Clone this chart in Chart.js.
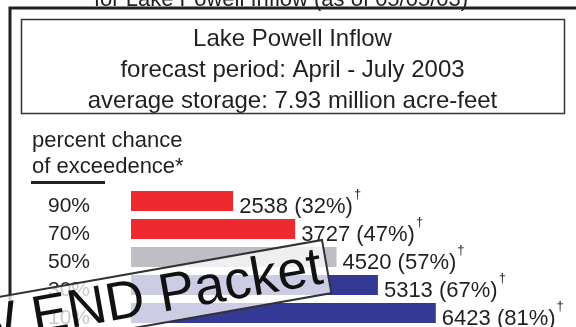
<!DOCTYPE html>
<html>
<head>
<meta charset="utf-8">
<script src="https://cdn.jsdelivr.net/npm/chart.js@4"></script>
<style>
  html, body { margin: 0; padding: 0; background: #fff; }
  #wrap { width: 576px; height: 327px; position: relative; }
</style>
</head>
<body>
<div id="wrap"><canvas id="inflowChart" width="576" height="327"></canvas></div>
<script>
// exceedence levels, forecast volumes (thousand acre-feet) and percent of average
var chances = ['90%', '70%', '50%', '30%', '10%'];
var volumes = [2538, 3727, 4520, 5313, 6423];
var pctAverage = [32, 47, 57, 67, 81];
var barColors = ['#ec2a2f', '#ec2a2f', '#bdbfc5', '#343996', '#343996'];

var titleLines = [
    'Lake Powell Inflow',
    'forecast period: April - July 2003',
    'average storage: 7.93 million acre-feet'
];
var headerText = 'for Lake Powell Inflow (as of 05/05/03)';

var FONT = '"Liberation Sans", Arial, Helvetica, sans-serif';
var INK = '#231f20';

// frame, title box and the column header
var framePlugin = {
    id: 'frame',
    beforeDraw: function(chart) {
        var ctx = chart.ctx;
        ctx.save();
        ctx.fillStyle = '#fff';
        ctx.fillRect(0, 0, chart.width, chart.height);

        ctx.fillStyle = INK;
        ctx.textAlign = 'center';
        ctx.textBaseline = 'alphabetic';
        ctx.font = '22px ' + FONT;
        ctx.fillText(headerText, 281, 6);

        // outer box (runs off the right and bottom)
        ctx.strokeStyle = INK;
        ctx.lineWidth = 3;
        ctx.beginPath();
        ctx.moveTo(10, 340);
        ctx.lineTo(10, 8);
        ctx.lineTo(600, 8);
        ctx.stroke();

        // title box
        ctx.lineWidth = 1.5;
        ctx.strokeStyle = '#333';
        ctx.strokeRect(21.5, 19.5, 543, 94);

        ctx.fillStyle = INK;
        ctx.font = '24px ' + FONT;
        ctx.fillText(titleLines[0], 292.5, 46);
        ctx.fillText(titleLines[1], 292.5, 77);
        ctx.fillText(titleLines[2], 292.5, 108);

        ctx.textAlign = 'left';
        ctx.font = '22px ' + FONT;
        ctx.fillText('percent chance', 32, 147);
        ctx.fillText('of exceedence*', 32, 173);
        ctx.fillRect(31, 181, 74, 3);
        ctx.restore();
    }
};

// row labels on the left, values with dagger after each bar
var labelPlugin = {
    id: 'rowLabels',
    afterDatasetsDraw: function(chart) {
        var ctx = chart.ctx;
        var bars = chart.getDatasetMeta(0).data;
        ctx.save();
        ctx.fillStyle = INK;
        ctx.textAlign = 'left';
        ctx.textBaseline = 'alphabetic';
        bars.forEach(function(bar, i) {
            ctx.font = '21px ' + FONT;
            ctx.fillText(chances[i], 48, bar.y + 11);

            var txt = volumes[i] + ' (' + pctAverage[i] + '%)';
            var tx = bar.x + 6;
            ctx.font = '22px ' + FONT;
            ctx.fillText(txt, tx, bar.y + 12);
            var w = ctx.measureText(txt).width;
            ctx.font = '13px ' + FONT;
            ctx.fillText('\u2020', tx + w + 1, bar.y - 3);
        });
        ctx.restore();
    }
};

// tilted stamp laid over the lower rows
var stampPlugin = {
    id: 'stamp',
    afterDraw: function(chart) {
        var ctx = chart.ctx;
        ctx.save();
        ctx.translate(322, 240);
        ctx.rotate(-10 * Math.PI / 180);
        ctx.fillStyle = 'rgba(255,255,255,0.75)';
        ctx.fillRect(-520, 0, 520, 54);
        ctx.strokeStyle = '#333';
        ctx.lineWidth = 2;
        ctx.strokeRect(-520, 0, 520, 54);
        ctx.fillStyle = '#111';
        ctx.font = '54px ' + FONT;
        ctx.textAlign = 'right';
        ctx.textBaseline = 'alphabetic';
        ctx.fillText('NEW END Packet', -5, 43);
        ctx.restore();
    }
};

var ctx = document.getElementById('inflowChart').getContext('2d');
var inflowChart = new Chart(ctx, {
    type: 'bar',
    data: {
        labels: chances,
        datasets: [{
            data: volumes,
            backgroundColor: barColors,
            borderWidth: 0,
            categoryPercentage: 1,
            barPercentage: 0.72
        }]
    },
    options: {
        indexAxis: 'y',
        responsive: false,
        animation: false,
        layout: { padding: { top: 187, left: 131, right: 0, bottom: 0 } },
        scales: {
            x: { display: false, min: 580, max: 9110 },
            y: { display: false }
        },
        plugins: {
            legend: { display: false },
            tooltip: { enabled: false }
        }
    },
    plugins: [framePlugin, labelPlugin, stampPlugin]
});
</script>
</body>
</html>
